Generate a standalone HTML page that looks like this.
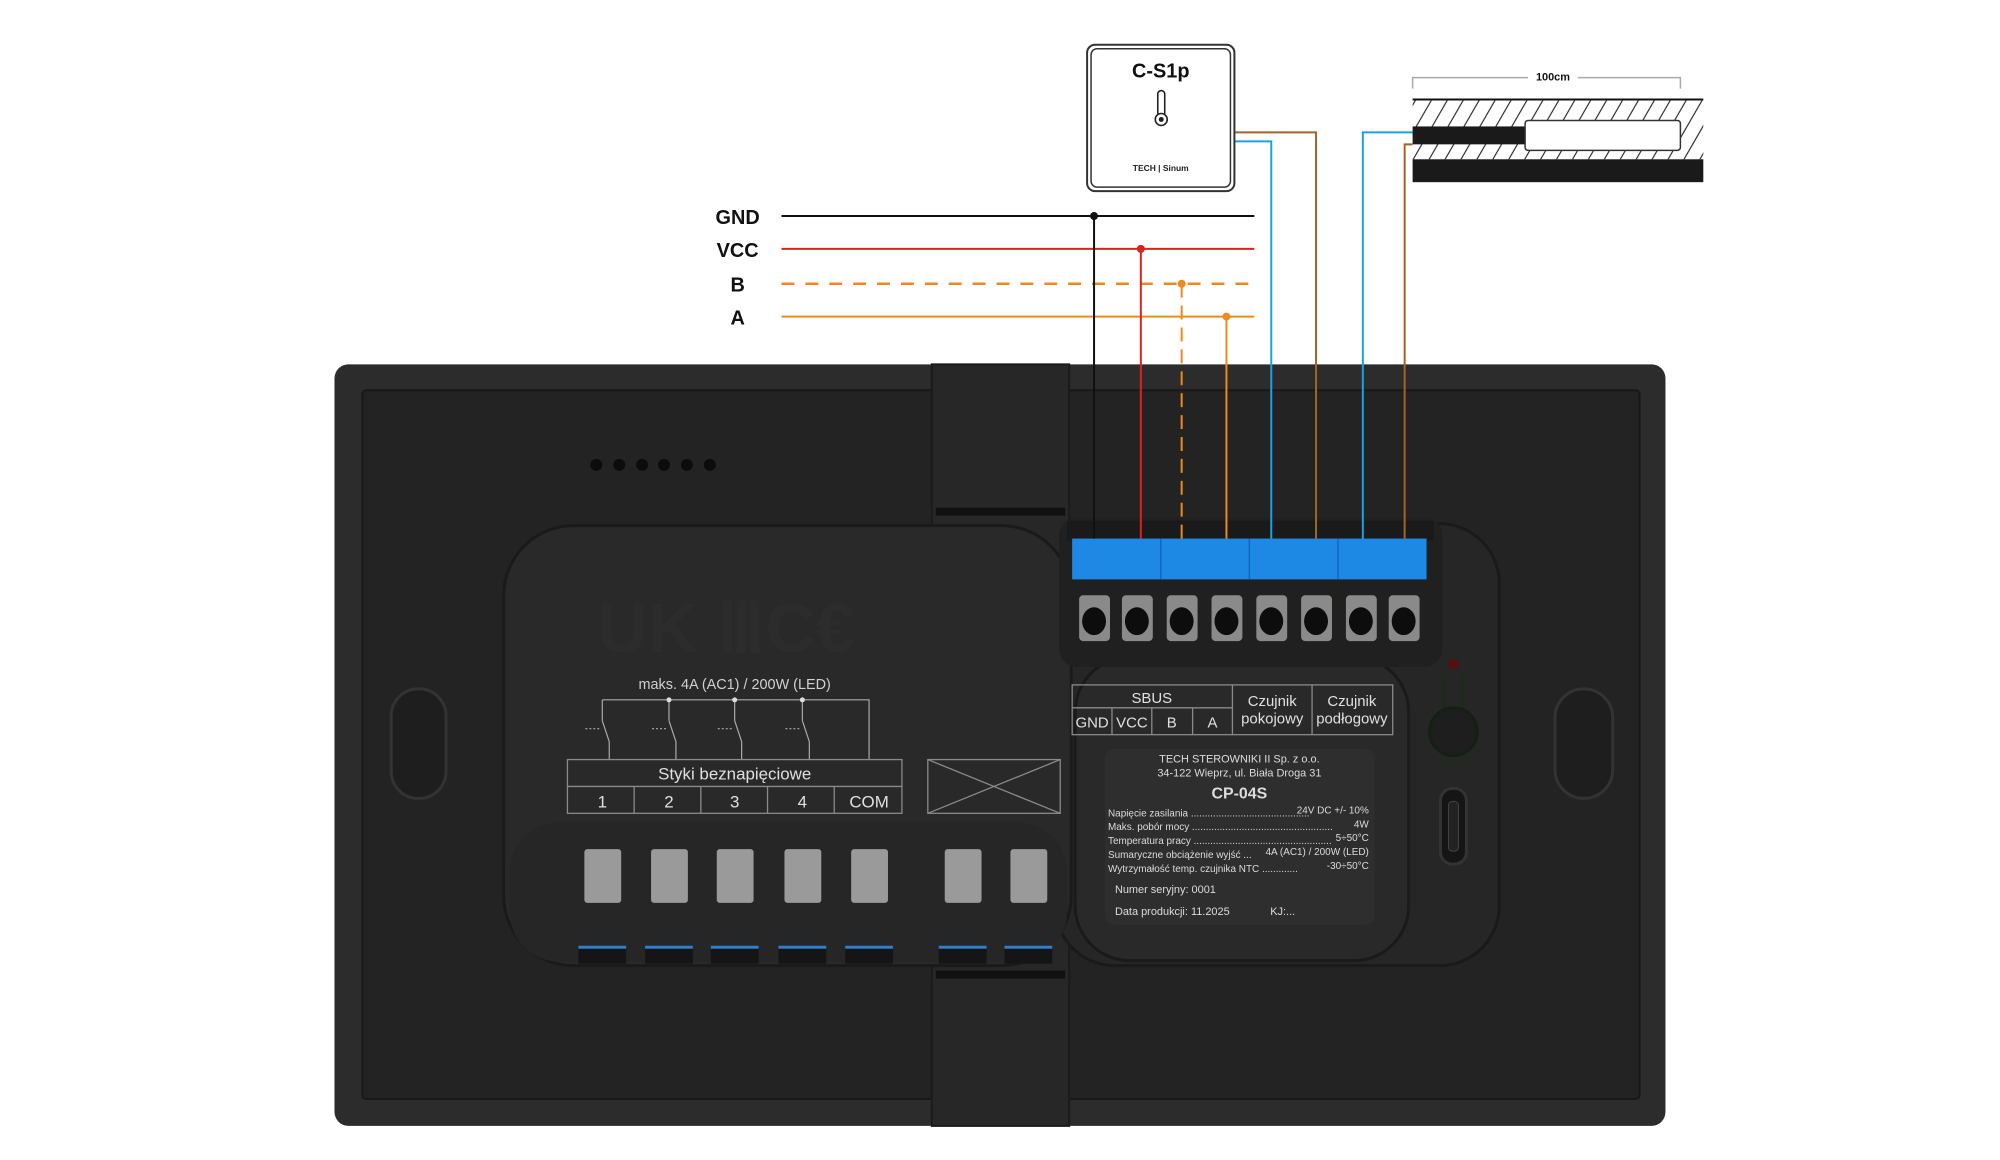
<!DOCTYPE html>
<html><head><meta charset="utf-8"><style>
html,body{margin:0;padding:0;background:#fff;width:2000px;height:1160px;overflow:hidden}
svg{display:block;font-family:"Liberation Sans",sans-serif}
</style></head><body>
<svg width="2000" height="1160" viewBox="0 0 2000 1160" xmlns="http://www.w3.org/2000/svg">
<defs>
<pattern id="hatch" width="16" height="40" patternUnits="userSpaceOnUse" patternTransform="skewX(-30)">
<line x1="8" y1="0" x2="8" y2="40" stroke="#222" stroke-width="1.3"/>
</pattern>
</defs>
<g transform="scale(0.9955)">
<!-- Device body -->
<rect x="336" y="366" width="1337" height="765" rx="14" fill="#2c2c2c"/>
<rect x="364" y="392" width="1283" height="712" rx="4" fill="#232323" stroke="#181818" stroke-width="2"/>
<rect x="936" y="366" width="138" height="765" fill="#272727" stroke="#1b1b1b" stroke-width="2"/>
<rect x="940" y="510" width="130" height="8" fill="#111"/>
<rect x="940" y="975" width="130" height="8" fill="#111"/>

<!-- mic dots -->
<g fill="#0c0c0c">
<circle cx="599" cy="467" r="6"/><circle cx="622" cy="467" r="6"/><circle cx="645" cy="467" r="6"/>
<circle cx="667" cy="467" r="6"/><circle cx="690" cy="467" r="6"/><circle cx="713" cy="467" r="6"/>
</g>

<!-- side slots -->
<rect x="393" y="692" width="55" height="110" rx="27" fill="#1e1e1e" stroke="#333" stroke-width="3"/>
<rect x="1562" y="692" width="58" height="110" rx="29" fill="#1e1e1e" stroke="#333" stroke-width="3"/>

<!-- module -->
<rect x="1060" y="526" width="446" height="444" rx="60" fill="#262626" stroke="#1a1a1a" stroke-width="3"/>
<rect x="506" y="528" width="570" height="442" rx="70" fill="#292929" stroke="#1a1a1a" stroke-width="3"/>
<rect x="512" y="826" width="560" height="140" rx="50" fill="#262626"/>
<rect x="1080" y="660" width="335" height="305" rx="55" fill="#292929" stroke="#1a1a1a" stroke-width="3"/>
<rect x="1064" y="520" width="385" height="150" rx="18" fill="#202020"/>
<rect x="1072" y="523" width="368" height="20" fill="#1a1a1a"/>

<!-- faint cert logos -->
<text x="600" y="655" font-size="70" fill="#2c2c2c" font-weight="bold">UK ⅢC€</text>

<!-- blue connector -->
<rect x="1077" y="541" width="356" height="41" fill="#1e88e5"/>
<g stroke="#1565c0" stroke-width="1.5">
<line x1="1166" y1="541" x2="1166" y2="582"/><line x1="1255" y1="541" x2="1255" y2="582"/><line x1="1344" y1="541" x2="1344" y2="582"/>
</g>

<!-- screws -->
<g fill="#8a8a8a">
<rect x="1084" y="598" width="31" height="46" rx="4"/><rect x="1127" y="598" width="31" height="46" rx="4"/>
<rect x="1172" y="598" width="31" height="46" rx="4"/><rect x="1217" y="598" width="31" height="46" rx="4"/>
<rect x="1262" y="598" width="31" height="46" rx="4"/><rect x="1307" y="598" width="31" height="46" rx="4"/>
<rect x="1352" y="598" width="31" height="46" rx="4"/><rect x="1395" y="598" width="31" height="46" rx="4"/>
</g>
<g fill="#0d0d0d">
<ellipse cx="1099" cy="624" rx="12" ry="14"/><ellipse cx="1142" cy="624" rx="12" ry="14"/>
<ellipse cx="1187" cy="624" rx="12" ry="14"/><ellipse cx="1232" cy="624" rx="12" ry="14"/>
<ellipse cx="1277" cy="624" rx="12" ry="14"/><ellipse cx="1322" cy="624" rx="12" ry="14"/>
<ellipse cx="1367" cy="624" rx="12" ry="14"/><ellipse cx="1410" cy="624" rx="12" ry="14"/>
</g>

<!-- LED, button, USB -->
<circle cx="1460" cy="667" r="5" fill="#5a0d0d"/>
<path d="M1451 680 V715 M1469 680 V715" stroke="#1b2b1b" stroke-width="3"/>
<circle cx="1460" cy="735" r="24" fill="#1e1e1e" stroke="#142014" stroke-width="3"/>
<rect x="1447" y="792" width="26" height="76" rx="12" fill="#151515" stroke="#333" stroke-width="3"/>
<rect x="1455" y="805" width="10" height="50" rx="4" fill="#222" stroke="#444"/>

<!-- relay diagram -->
<text x="738" y="692" font-size="14.5" fill="#d0d0d0" text-anchor="middle">maks. 4A (AC1) / 200W (LED)</text>
<g stroke="#aaa" stroke-width="1.2" fill="none">
<path d="M605 703 H873 V763"/>
<path d="M605 703 V724 M672 703 V724 M738 703 V724 M806 703 V724"/>
<path d="M605 724 L612 745 M672 724 L679 745 M738 724 L745 745 M806 724 L813 745"/>
<path d="M612 745 V763 M679 745 V763 M745 745 V763 M813 745 V763"/>
<path d="M588 732 H603 M655 732 H670 M721 732 H736 M789 732 H804" stroke-dasharray="2 2"/>
</g>
<g fill="#ddd"><circle cx="672" cy="703" r="2.5"/><circle cx="738" cy="703" r="2.5"/><circle cx="806" cy="703" r="2.5"/></g>
<g stroke="#8a8a8a" stroke-width="1.3" fill="none">
<rect x="570" y="763" width="336" height="54"/>
<line x1="570" y1="790" x2="906" y2="790"/>
<line x1="637" y1="790" x2="637" y2="817"/><line x1="704" y1="790" x2="704" y2="817"/>
<line x1="771" y1="790" x2="771" y2="817"/><line x1="838" y1="790" x2="838" y2="817"/>
<rect x="932" y="763" width="133" height="54"/>
<path d="M932 763 L1065 817 M1065 763 L932 817"/>
</g>
<g fill="#e0e0e0" font-size="17" text-anchor="middle">
<text x="738" y="783">Styki beznapięciowe</text>
<text x="605" y="811">1</text><text x="672" y="811">2</text><text x="738" y="811">3</text><text x="806" y="811">4</text><text x="873" y="811">COM</text>
</g>

<!-- gray blocks -->
<g fill="#9a9a9a">
<rect x="587" y="853" width="37" height="54" rx="3"/><rect x="654" y="853" width="37" height="54" rx="3"/>
<rect x="720" y="853" width="37" height="54" rx="3"/><rect x="788" y="853" width="37" height="54" rx="3"/>
<rect x="855" y="853" width="37" height="54" rx="3"/><rect x="949" y="853" width="37" height="54" rx="3"/>
<rect x="1015" y="853" width="37" height="54" rx="3"/>
</g>
<g fill="#151515">
<rect x="581" y="950" width="48" height="18"/><rect x="648" y="950" width="48" height="18"/>
<rect x="714" y="950" width="48" height="18"/><rect x="782" y="950" width="48" height="18"/>
<rect x="849" y="950" width="48" height="18"/><rect x="943" y="950" width="48" height="18"/>
<rect x="1009" y="950" width="48" height="18"/>
</g>
<g fill="#2f7fd0">
<rect x="581" y="950" width="48" height="3"/><rect x="648" y="950" width="48" height="3"/>
<rect x="714" y="950" width="48" height="3"/><rect x="782" y="950" width="48" height="3"/>
<rect x="849" y="950" width="48" height="3"/><rect x="943" y="950" width="48" height="3"/>
<rect x="1009" y="950" width="48" height="3"/>
</g>

<!-- SBUS table -->
<g stroke="#8a8a8a" stroke-width="1.3" fill="none">
<rect x="1077" y="688" width="322" height="50"/>
<line x1="1077" y1="711" x2="1238" y2="711"/>
<line x1="1238" y1="688" x2="1238" y2="738"/><line x1="1318" y1="688" x2="1318" y2="738"/>
<line x1="1117" y1="711" x2="1117" y2="738"/><line x1="1157" y1="711" x2="1157" y2="738"/><line x1="1198" y1="711" x2="1198" y2="738"/>
</g>
<g fill="#e0e0e0" font-size="15" text-anchor="middle">
<text x="1157" y="706">SBUS</text>
<text x="1097" y="731">GND</text><text x="1137" y="731">VCC</text><text x="1177" y="731">B</text><text x="1218" y="731">A</text>
<text x="1278" y="709">Czujnik</text><text x="1278" y="727">pokojowy</text>
<text x="1358" y="709">Czujnik</text><text x="1358" y="727">podłogowy</text>
</g>

<!-- label plate -->
<rect x="1110" y="752" width="271" height="177" rx="10" fill="#2e2e2e"/>
<g fill="#dcdcdc" font-size="11">
<text x="1245" y="766" text-anchor="middle">TECH STEROWNIKI II Sp. z o.o.</text>
<text x="1245" y="780" text-anchor="middle">34-122 Wieprz, ul. Biała Droga 31</text>
<text x="1245" y="802" text-anchor="middle" font-size="16" font-weight="bold">CP-04S</text>
<text x="1113" y="820" font-size="10">Napięcie zasilania ...........................................</text>
<text x="1375" y="817" font-size="10" text-anchor="end">24V DC +/- 10%</text>
<text x="1113" y="834" font-size="10">Maks. pobór mocy ...................................................</text>
<text x="1375" y="831" font-size="10" text-anchor="end">4W</text>
<text x="1113" y="848" font-size="10">Temperatura pracy ..................................................</text>
<text x="1375" y="845" font-size="10" text-anchor="end">5÷50°C</text>
<text x="1113" y="862" font-size="10">Sumaryczne obciążenie wyjść ...</text>
<text x="1375" y="859" font-size="10" text-anchor="end">4A (AC1) / 200W (LED)</text>
<text x="1113" y="876" font-size="10">Wytrzymałość temp. czujnika NTC .............</text>
<text x="1375" y="873" font-size="10" text-anchor="end">-30÷50°C</text>
<text x="1120" y="897">Numer seryjny: 0001</text>
<text x="1120" y="919">Data produkcji: 11.2025</text>
<text x="1276" y="919">KJ:...</text>
</g>

<!-- bus lines -->
<g font-size="20" font-weight="bold" fill="#111" text-anchor="middle">
<text x="741" y="225">GND</text><text x="741" y="258">VCC</text><text x="741" y="293">B</text><text x="741" y="326">A</text>
</g>
<line x1="785" y1="217" x2="1260" y2="217" stroke="#111" stroke-width="2"/>
<line x1="785" y1="250" x2="1260" y2="250" stroke="#e02020" stroke-width="2"/>
<line x1="785" y1="285" x2="1260" y2="285" stroke="#f0891c" stroke-width="2.5" stroke-dasharray="13 11"/>
<line x1="785" y1="318" x2="1260" y2="318" stroke="#f0891c" stroke-width="2"/>

<!-- vertical wires -->
<line x1="1099" y1="217" x2="1099" y2="541" stroke="#111" stroke-width="2"/>
<line x1="1146" y1="250" x2="1146" y2="541" stroke="#e02020" stroke-width="2"/>
<line x1="1187" y1="285" x2="1187" y2="541" stroke="#f0891c" stroke-width="2" stroke-dasharray="14 8"/>
<line x1="1232" y1="318" x2="1232" y2="541" stroke="#f0891c" stroke-width="2"/>
<path d="M1240 142 H1277 V541" stroke="#1da1e0" stroke-width="2" fill="none"/>
<path d="M1240 133 H1322 V541" stroke="#a0642c" stroke-width="2" fill="none"/>
<path d="M1419 133 H1369 V541" stroke="#1da1e0" stroke-width="2" fill="none"/>
<path d="M1419 145 H1411 V541" stroke="#a0642c" stroke-width="2" fill="none"/>
<g><circle cx="1099" cy="217" r="4" fill="#111"/><circle cx="1146" cy="250" r="4" fill="#e02020"/>
<circle cx="1187" cy="285" r="4" fill="#f0891c"/><circle cx="1232" cy="318" r="4" fill="#f0891c"/></g>

<!-- C-S1p box -->
<rect x="1092" y="45" width="148" height="147" rx="8" fill="#fff" stroke="#333" stroke-width="2"/>
<rect x="1096" y="49" width="140" height="139" rx="6" fill="none" stroke="#333" stroke-width="1.5"/>
<text x="1166" y="78" font-size="20" font-weight="bold" text-anchor="middle" fill="#111">C-S1p</text>
<rect x="1163" y="91" width="7" height="26" rx="3.5" fill="none" stroke="#222" stroke-width="1.6"/>
<circle cx="1166.5" cy="120" r="6" fill="#fff" stroke="#222" stroke-width="1.6"/>
<circle cx="1166.5" cy="120" r="2.5" fill="#222"/>
<text x="1166" y="172" font-size="8.5" font-weight="bold" text-anchor="middle" fill="#222">TECH | Sinum</text>

<!-- floor sensor -->
<path d="M1419 89 V78 H1688 V89" stroke="#aaa" stroke-width="1.5" fill="none"/>
<rect x="1535" y="70" width="50" height="14" fill="#fff"/>
<text x="1560" y="81" font-size="11" font-weight="bold" text-anchor="middle" fill="#111">100cm</text>
<rect x="1419" y="101" width="292" height="59" fill="url(#hatch)"/>
<line x1="1419" y1="100" x2="1711" y2="100" stroke="#111" stroke-width="2"/>
<rect x="1419" y="127" width="115" height="18" fill="#1a1a1a"/>
<rect x="1532" y="121" width="156" height="30" rx="3" fill="#fff" stroke="#333" stroke-width="1.5"/>
<rect x="1419" y="160" width="292" height="23" fill="#1a1a1a"/>
</g>
</svg>
</body></html>
